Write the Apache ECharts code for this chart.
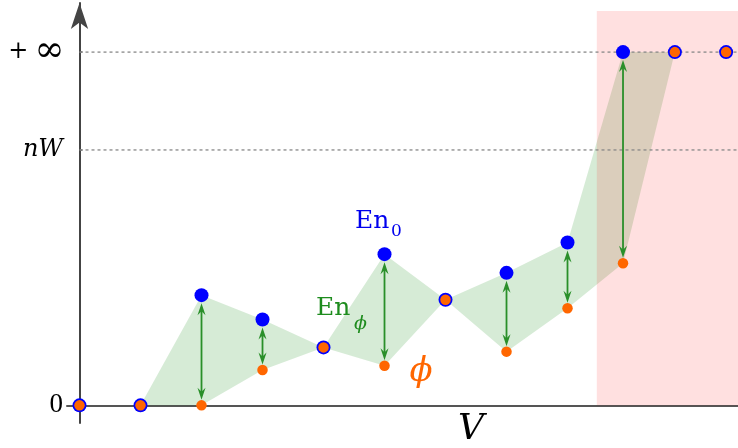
<!DOCTYPE html>
<html><head><meta charset="utf-8">
<script src="https://cdn.jsdelivr.net/npm/echarts@6/dist/echarts.min.js"></script>
<style>html,body{margin:0;padding:0;background:#fff}#c{width:738px;height:448px}</style>
</head><body><div id="c"></div>
<script>
// ---- data ----
const xPos = [0, 1, 2, 3, 4, 5, 6, 7, 8, 8.91, 9.76, 10.6];
const en0  = [0, 0, 3.12, 2.43, 1.64, 4.28, 2.99, 3.75, 4.61, 10, 10, 10];
const phi  = [0, 0, 0, 1.0, 1.64, 1.12, 2.99, 1.52, 2.75, 4.02, 10, 10];
const arrowIdx = [2, 3, 5, 7, 8, 9];
const yTickValues = [0, 7.23, 10];
const yTickLabels = ['0', 'nW', '+ ∞'];
const refLineValues = [7.23, 10];
const bandStart = 8.48;
const bandTop = 11.16;
const shadeFrom = 1, shadeTo = 10;

const X_MIN = -0.205, X_MAX = 10.795, Y_MIN = -0.5, Y_MAX = 11.39;

const chart = echarts.init(document.getElementById('c'), null, {renderer: 'canvas'});

const series = [];
// shaded region between the two curves
series.push({
  type: 'custom', z: 1, silent: true, data: [[0, 0]],
  renderItem: (params, api) => {
    const pts = [];
    for (let i = shadeFrom; i <= shadeTo; i++) pts.push(api.coord([xPos[i], en0[i]]));
    for (let i = shadeTo; i >= shadeFrom; i--) pts.push(api.coord([xPos[i], phi[i]]));
    return {type: 'polygon', shape: {points: pts}, style: {fill: 'rgba(0,128,0,0.16)'}};
  }
});
// pink band
series.push({
  type: 'custom', z: 2, silent: true, data: [[bandStart, bandTop]],
  renderItem: (params, api) => {
    const p0 = api.coord([api.value(0), api.value(1)]);
    const p1 = api.coord([X_MAX, 0]);
    return {type: 'rect', shape: {x: p0[0], y: p0[1], width: p1[0] - p0[0], height: p1[1] - p0[1]},
      style: {fill: 'rgba(255,0,0,0.12)'}};
  }
});
// dotted reference lines
refLineValues.forEach(v => {
  series.push({
    type: 'line', z: 3, silent: true, symbol: 'none',
    data: [[0, v], [X_MAX, v]],
    lineStyle: {type: [3, 3], color: '#888', width: 1.3}
  });
});
// double arrows
series.push({
  type: 'custom', z: 4, silent: true,
  data: arrowIdx.map(i => [xPos[i], en0[i], phi[i]]),
  renderItem: (params, api) => {
    const t = api.coord([api.value(0), api.value(1)]);
    const b = api.coord([api.value(0), api.value(2)]);
    const x = t[0];
    const y1 = t[1] + 8, y2 = b[1] - 5.5;
    const col = '#2a8f2a';
    const hl = 12, hw = 4, nt = 8;
    return {
      type: 'group',
      children: [
        {type: 'line', shape: {x1: x, y1: y1 + 5, x2: x, y2: y2 - 5}, style: {stroke: col, lineWidth: 1.8}},
        {type: 'polygon', shape: {points: [[x, y1], [x - hw, y1 + hl], [x, y1 + nt], [x + hw, y1 + hl]]}, style: {fill: col}},
        {type: 'polygon', shape: {points: [[x, y2], [x - hw, y2 - hl], [x, y2 - nt], [x + hw, y2 - hl]]}, style: {fill: col}}
      ]
    };
  }
});
// points
series.push({
  type: 'scatter', z: 5, silent: true, symbol: 'circle', symbolSize: 14,
  data: xPos.map((x, i) => [x, en0[i]]),
  itemStyle: {color: '#0000ff', opacity: 1}
});
series.push({
  type: 'scatter', z: 6, silent: true, symbol: 'circle', symbolSize: 10.5,
  data: xPos.map((x, i) => [x, phi[i]]),
  itemStyle: {color: '#ff6600', opacity: 1}
});

const option = {
  animation: false,
  backgroundColor: '#fff',
  grid: {left: 67, right: 0, top: 3, bottom: 25, containLabel: false, outerBoundsMode: 'none'},
  xAxis: {
    type: 'value', min: X_MIN, max: X_MAX,
    axisLine: {show: true, onZero: true, lineStyle: {color: '#555', width: 2}},
    axisTick: {show: false}, axisLabel: {show: false}, splitLine: {show: false}
  },
  yAxis: {
    type: 'value', min: Y_MIN, max: Y_MAX,
    axisLine: {show: true, onZero: true, symbol: ['none', 'arrow'], symbolSize: [13, 26], symbolOffset: [0, 0],
      lineStyle: {color: '#444', width: 2}},
    axisTick: {show: true, inside: true, length: 3, customValues: [7.23, 10], lineStyle: {color: '#555', width: 1.5}},
    axisLabel: {
      show: true, customValues: yTickValues, margin: 4,
      formatter: v => {
        const k = yTickValues.findIndex(t => Math.abs(t - v) < 1e-6);
        const s = k >= 0 ? yTickLabels[k] : '';
        if (s === 'nW') return '{i|' + s + '}';
        if (s === '0') return '{z|' + s + '}';
        if (s === '+ ∞') return '{p|+}{sp| }{inf|∞}';
        return s;
      },
      rich: {
        i: {fontFamily: 'DejaVu Serif', fontStyle: 'italic', fontSize: 24, color: '#000'},
        p: {fontFamily: 'DejaVu Serif', fontSize: 24, color: '#000'},
        sp: {fontFamily: 'DejaVu Serif', fontSize: 24, color: '#000'},
        inf: {fontFamily: 'DejaVu Serif', fontSize: 36, color: '#000', width: 27, align: 'left'},
        z: {fontFamily: 'Liberation Serif', fontSize: 27, color: '#000'}
      }
    },
    splitLine: {show: false}
  },
  graphic: [
    {type: 'text', x: 355, y: 221, z: 10, style: {text: 'En', font: '25px "DejaVu Serif"', fill: '#0000ee', align: 'left', verticalAlign: 'middle'}},
    {type: 'text', x: 391, y: 232, z: 10, style: {text: '0', font: '17px "DejaVu Serif"', fill: '#0000ee', align: 'left', verticalAlign: 'middle'}},
    {type: 'text', x: 316, y: 308, z: 10, style: {text: 'En', font: '25px "DejaVu Serif"', fill: '#1e8c1e', align: 'left', verticalAlign: 'middle'}},
    {type: 'text', x: 354, y: 324, z: 10, style: {text: 'ϕ', font: 'italic 19px "DejaVu Serif"', fill: '#1e8c1e', align: 'left', verticalAlign: 'middle'}},
    {type: 'text', x: 421, y: 372, z: 10, style: {text: 'ϕ', font: 'italic 34px "DejaVu Serif"', fill: '#ff6600', align: 'center', verticalAlign: 'middle'}},
    {type: 'text', x: 471, y: 430, z: 10, style: {text: 'V', font: 'italic 36px "DejaVu Serif"', fill: '#000', align: 'center', verticalAlign: 'middle'}}
  ],
  series: series
};
chart.setOption(option);
</script>
</body></html>
